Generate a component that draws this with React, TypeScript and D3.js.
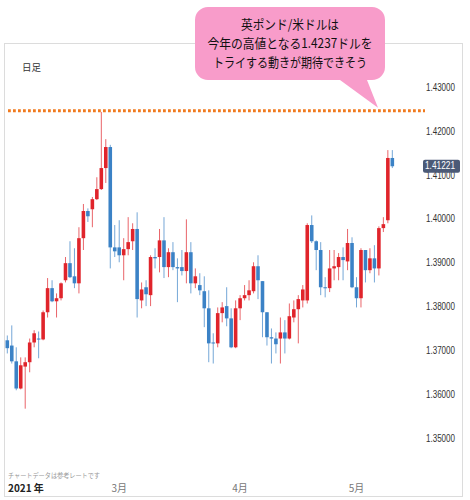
import React from "react";
import * as d3 from "d3";

const dates = [
  "01-30",
  "02-01","02-02","02-03","02-04","02-05","02-06",
  "02-08","02-09","02-10","02-11","02-12","02-13",
  "02-15","02-16","02-17","02-18","02-19","02-20",
  "02-22","02-23","02-24","02-25","02-26","02-27",
  "03-01","03-02","03-03","03-04","03-05","03-06",
  "03-08","03-09","03-10","03-11","03-12","03-13",
  "03-15","03-16","03-17","03-18","03-19","03-20",
  "03-22","03-23","03-24","03-25","03-26","03-27",
  "03-29","03-30","03-31",
  "04-01","04-02","04-03",
  "04-05","04-06","04-07","04-08","04-09","04-10",
  "04-12","04-13","04-14","04-15","04-16","04-17",
  "04-19","04-20","04-21","04-22","04-23","04-24",
  "04-26","04-27","04-28","04-29","04-30",
  "05-01",
  "05-03","05-04","05-05","05-06","05-07","05-08",
  "05-10","05-11",
];

const opens = [
  1.3725,1.3713,1.3677,1.3615,1.3665,1.3675,1.3720,1.3729,1.3727,1.3789,
  1.3844,1.3814,1.3821,1.3862,1.3901,1.3871,1.3855,1.3958,1.4020,1.4024,
  1.4047,1.4070,1.4118,1.4166,1.3937,1.3937,1.3919,1.3933,1.3951,1.3979,
  1.3816,1.3846,1.3828,1.3915,1.3915,1.3953,1.3892,1.3926,1.3892,1.3892,
  1.3883,1.3926,1.3855,1.3851,1.3837,1.3798,1.3720,1.3718,1.3787,1.3803,
  1.3775,1.3709,1.3798,1.3821,1.3828,1.3837,1.3894,1.3860,1.3789,1.3732,
  1.3729,1.3729,1.3743,1.3729,1.3777,1.3796,1.3816,1.3816,1.3988,1.3951,
  1.3931,1.3846,1.3844,1.3889,1.3892,1.3915,1.3905,1.3947,1.3846,1.3821,
  1.3931,1.3885,1.3912,1.3889,1.3981,1.3999,1.4141,
];
const highs = [
  1.3736,1.3759,1.3709,1.3686,1.3686,1.3729,1.3748,1.3745,1.3793,1.3867,
  1.3862,1.3832,1.3857,1.3915,1.3951,1.3935,1.3983,1.4036,1.4026,1.4052,
  1.4097,1.4246,1.4184,1.4171,1.3988,1.3999,1.3958,1.4006,1.3992,1.4017,
  1.3857,1.3862,1.3919,1.3935,1.3979,1.4006,1.3935,1.3949,1.3912,1.3931,
  1.4001,1.3949,1.3889,1.3878,1.3871,1.3839,1.3741,1.3800,1.3812,1.3846,
  1.3798,1.3816,1.3828,1.3851,1.3862,1.3903,1.3919,1.3860,1.3789,1.3752,
  1.3743,1.3777,1.3771,1.3809,1.3816,1.3828,1.3851,1.3992,1.4010,1.3953,
  1.3949,1.3869,1.3931,1.3931,1.3924,1.3937,1.3979,1.3960,1.3869,1.3935,
  1.3931,1.3935,1.3942,1.3985,1.4006,1.4159,1.4159,
];
const lows = [
  1.3695,1.3672,1.3611,1.3613,1.3569,1.3652,1.3709,1.3684,1.3725,1.3777,
  1.3812,1.3777,1.3816,1.3857,1.3867,1.3844,1.3832,1.3931,1.3995,1.3983,
  1.4045,1.4068,1.4084,1.3889,1.3915,1.3903,1.3862,1.3919,1.3931,1.3777,
  1.3798,1.3803,1.3803,1.3889,1.3880,1.3867,1.3869,1.3885,1.3812,1.3873,
  1.3855,1.3832,1.3844,1.3828,1.3755,1.3675,1.3672,1.3709,1.3766,1.3757,
  1.3707,1.3707,1.3771,1.3816,1.3816,1.3832,1.3819,1.3732,1.3713,1.3672,
  1.3695,1.3672,1.3695,1.3727,1.3766,1.3718,1.3800,1.3809,1.3947,1.3885,
  1.3828,1.3823,1.3835,1.3862,1.3862,1.3862,1.3885,1.3844,1.3800,1.3800,
  1.3857,1.3878,1.3857,1.3873,1.3972,1.3992,1.4118,
];
const closes = [
  1.3707,1.3677,1.3615,1.3668,1.3675,1.3720,1.3741,1.3727,1.3789,1.3844,
  1.3814,1.3821,1.3855,1.3901,1.3869,1.3855,1.3958,1.4020,1.4008,1.4047,
  1.4070,1.4118,1.4166,1.3937,1.3928,1.3919,1.3933,1.3949,1.3979,1.3819,
  1.3841,1.3830,1.3915,1.3912,1.3953,1.3892,1.3926,1.3892,1.3889,1.3883,
  1.3926,1.3855,1.3871,1.3839,1.3798,1.3718,1.3718,1.3787,1.3800,1.3775,
  1.3709,1.3798,1.3821,1.3828,1.3839,1.3894,1.3862,1.3789,1.3732,1.3729,
  1.3716,1.3743,1.3729,1.3780,1.3796,1.3819,1.3841,1.3988,1.3951,1.3931,
  1.3846,1.3844,1.3889,1.3894,1.3915,1.3908,1.3947,1.3846,1.3821,1.3931,
  1.3885,1.3912,1.3889,1.3981,1.3990,1.4141,1.41221,
];

const yTicks = [1.35, 1.36, 1.37, 1.38, 1.39, 1.40, 1.41, 1.42, 1.43];
const monthTicks = [
  { date: "03-01", label: "3月" },
  { date: "04-01", label: "4月" },
  { date: "05-01", label: "5月" },
];
const resistance = 1.4249;
const lastPrice = 1.41221;
const calloutLines = ["英ポンド/米ドルは", "今年の高値となる1.4237ドルを", "トライする動きが期待できそう"];
const calloutWidths = [98, 165, 154];

const UP = "#e0242b";
const DOWN = "#3b82c6";

export default function App() {
  const x = d3.scaleBand<string>().domain(dates).range([5.06, 394.56]).paddingInner(0.2).paddingOuter(0.1);
  const y = d3.scaleLinear().domain([1.35, 1.43]).range([438.9, 88.3]);
  const bw = x.bandwidth();
  const cx = (d: string) => (x(d) as number) + bw / 2;

  const candles = dates.map((d, i) => ({ d, o: opens[i], h: highs[i], l: lows[i], c: closes[i] }));

  const tail = d3.path();
  // callout balloon
  const bx = 195, by = 7, bW = 190, bH = 73, r = 13;
  tail.moveTo(bx + r, by);
  tail.lineTo(bx + bW - r, by);
  tail.arcTo(bx + bW, by, bx + bW, by + r, r);
  tail.lineTo(bx + bW, by + bH - r);
  tail.arcTo(bx + bW, by + bH, bx + bW - r, by + bH, r);
  tail.lineTo(367, by + bH);
  tail.lineTo(378, y(resistance) - 3);
  tail.lineTo(340, by + bH);
  tail.lineTo(bx + r, by + bH);
  tail.arcTo(bx, by + bH, bx, by + bH - r, r);
  tail.lineTo(bx, by + r);
  tail.arcTo(bx, by, bx + r, by, r);
  tail.closePath();

  const fmt = d3.format(".5f");

  return (
    <svg width={470} height={500} style={{ position: "absolute", left: 0, top: 0, background: "#fff" }}
      fontFamily="'Noto Sans CJK JP', 'Noto Sans', sans-serif">
      <rect x={4.5} y={43.5} width={458} height={453} fill="#fff" stroke="#dcdcdc" strokeWidth={1} />

      <text x={22} y={68} fontSize={9.5} fill="#333" dominantBaseline="middle">日足</text>

      {yTicks.map((t) => (
        <text key={t} x={455} y={y(t)} fontSize={10} fill="#333" textAnchor="end" dominantBaseline="middle"
          fontFamily="'Liberation Sans', Arial, sans-serif" textLength={29} lengthAdjust="spacingAndGlyphs">
          {fmt(t)}
        </text>
      ))}

      <line x1={8} x2={425} y1={y(resistance)} y2={y(resistance)} stroke="#f07a1e" strokeWidth={3}
        strokeDasharray="2.8 2.2" />

      {candles.map((k) => {
        const up = k.c >= k.o;
        const col = up ? UP : DOWN;
        const top = y(Math.max(k.o, k.c));
        const bot = y(Math.min(k.o, k.c));
        return (
          <g key={k.d}>
            <line x1={cx(k.d)} x2={cx(k.d)} y1={y(k.h)} y2={y(k.l)} stroke={col} strokeOpacity={0.7} strokeWidth={1} />
            <rect x={x(k.d)} y={top} width={bw} height={Math.max(1, bot - top)} fill={col} />
          </g>
        );
      })}

      <rect x={423} y={y(lastPrice) - 6.5} width={37} height={13} rx={2} fill="#4b5a77" />
      <text x={455} y={y(lastPrice)} fontSize={10} fill="#fff" textAnchor="end" dominantBaseline="middle"
        fontFamily="'Liberation Sans', Arial, sans-serif" textLength={30} lengthAdjust="spacingAndGlyphs">
        {fmt(lastPrice)}
      </text>

      <path d={tail.toString()} fill="#f89cca" />
      {calloutLines.map((s, i) => (
        <text key={i} x={290} y={25 + i * 19} fontSize={13} fill="#111" textAnchor="middle" dominantBaseline="middle"
          textLength={calloutWidths[i]} lengthAdjust="spacingAndGlyphs">
          {s}
        </text>
      ))}

      <text x={8} y={476} fontSize={6.5} fill="#999" dominantBaseline="middle" textLength={92} lengthAdjust="spacingAndGlyphs">
        チャートデータは参考レートです
      </text>
      <text x={8} y={489} fontSize={10} fill="#222" fontWeight="bold" dominantBaseline="middle">2021 年</text>
      {monthTicks.map((m) => (
        <text key={m.label} x={cx(m.date)} y={489} fontSize={10} fill="#777" textAnchor="middle" dominantBaseline="middle">
          {m.label}
        </text>
      ))}
    </svg>
  );
}
